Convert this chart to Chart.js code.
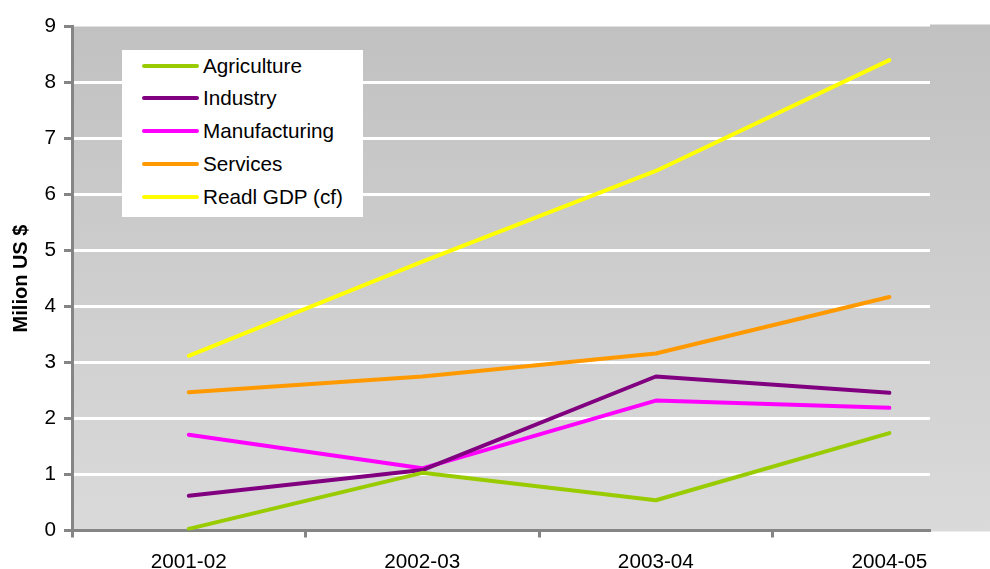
<!DOCTYPE html>
<html>
<head>
<meta charset="utf-8">
<script src="https://cdn.jsdelivr.net/npm/chart.js@4"></script>
<style>
  html, body { margin: 0; padding: 0; background: #fff; overflow: hidden; }
  #wrap { position: relative; width: 990px; height: 569px; }
  #legend {
    position: absolute; left: 122px; top: 50px; width: 241px; height: 167px;
    background: #fff; font: 20.7px "Liberation Sans", Arial, sans-serif; color: #000;
  }
  #legend .item { position: absolute; left: 0; height: 32px; width: 100%; }
  #legend .swatch { position: absolute; left: 20px; top: 14px; width: 57px; height: 4px; border-radius: 2px; }
  #legend .label { position: absolute; left: 81px; top: 0; line-height: 32px; white-space: nowrap; }
</style>
</head>
<body>
<div id="wrap">
  <canvas id="gdpChart"></canvas>
  <div id="legend"></div>
</div>
<script>
// sector output by fiscal year (million US $)
const years = ["2001-02", "2002-03", "2003-04", "2004-05"];
const agriculture = [0.03, 1.03, 0.54, 1.74];
const industry = [0.62, 1.08, 2.75, 2.46];
const manufacturing = [1.71, 1.11, 2.32, 2.19];
const services = [2.47, 2.75, 3.16, 4.17];
const realGdp = [3.12, 4.8, 6.42, 8.4];
const yTicks = [0, 1, 2, 3, 4, 5, 6, 7, 8, 9];

const series = [
  { label: "Agriculture", values: agriculture, color: "#99CC00" },
  { label: "Industry", values: industry, color: "#800080" },
  { label: "Manufacturing", values: manufacturing, color: "#FF00FF" },
  { label: "Services", values: services, color: "#FF9900" },
  { label: "Readl GDP (cf)", values: realGdp, color: "#FFFF00" },
];

const axisGray = "#858585";
Chart.defaults.font.family = "'Liberation Sans', Arial, sans-serif";
Chart.defaults.color = "#000";

// gray gradient behind the plot, plus the side panel to its right
const plotBackground = {
  id: "plotBackground",
  beforeDraw(chart) {
    const { ctx, chartArea: a } = chart;
    const grad = ctx.createLinearGradient(0, a.top, 0, a.bottom);
    grad.addColorStop(0, "#C1C1C1");
    grad.addColorStop(1, "#DADADA");
    ctx.save();
    ctx.fillStyle = grad;
    ctx.fillRect(a.left, a.top, a.right - a.left, a.bottom - a.top);
    ctx.fillRect(a.right, a.top - 2, chart.width - a.right, a.bottom - a.top + 3);
    ctx.restore();
  },
};

const chart = new Chart(document.getElementById("gdpChart"), {
  type: "line",
  data: {
    datasets: series.map((s) => ({
      label: s.label,
      data: s.values.map((v, i) => ({ x: i, y: v })),
      borderColor: s.color,
      backgroundColor: s.color,
      borderWidth: 4,
      borderCapStyle: "round",
      borderJoinStyle: "round",
      pointRadius: 0,
      tension: 0,
      fill: false,
    })),
  },
  options: {
    responsive: true,
    maintainAspectRatio: false,
    animation: false,
    layout: { padding: { left: 0, right: 60, top: 26.5, bottom: 0 } },
    plugins: { legend: { display: false }, tooltip: { enabled: false } },
    scales: {
      x: {
        type: "linear",
        min: -0.5,
        max: 3.174,
        afterBuildTicks(scale) {
          // tick marks between categories, labels on the categories
          scale.ticks = [-0.5, 0, 0.5, 1, 1.5, 2, 2.5, 3].map((v) => ({ value: v }));
        },
        afterFit(scale) { scale.height = 38.5; },
        ticks: {
          autoSkip: false,
          maxRotation: 0,
          padding: 12,
          font: { size: 20.7 },
          callback: (v) => (Number.isInteger(v) ? years[v] : ""),
        },
        grid: {
          drawOnChartArea: false,
          tickLength: 7,
          tickWidth: 3,
          tickColor: (ctx) => (Number.isInteger(ctx.tick.value) ? "transparent" : axisGray),
        },
        border: { color: axisGray, width: 3 },
      },
      y: {
        min: 0,
        max: 9,
        afterBuildTicks(scale) {
          scale.ticks = yTicks.map((v) => ({ value: v }));
        },
        afterFit(scale) { scale.width = 72; },
        ticks: { padding: 8, font: { size: 20.7 } },
        grid: {
          color: (ctx) => (ctx.tick.value > 0 && ctx.tick.value < 9 ? "#fff" : "transparent"),
          lineWidth: 3,
          tickLength: 8,
          tickWidth: 3,
          tickColor: axisGray,
        },
        border: { color: axisGray, width: 3 },
        title: {
          display: true,
          text: "Milion US $",
          font: { size: 20, weight: "bold" },
          padding: { top: 9, bottom: 0 },
        },
      },
    },
  },
  plugins: [plotBackground],
});

// legend box built from the same series list
const legendEl = document.getElementById("legend");
series.forEach((s, i) => {
  const item = document.createElement("div");
  item.className = "item";
  item.style.top = (-0.5 + i * 32.8) + "px";
  const sw = document.createElement("span");
  sw.className = "swatch";
  sw.style.background = s.color;
  const lab = document.createElement("span");
  lab.className = "label";
  lab.textContent = s.label;
  item.appendChild(sw);
  item.appendChild(lab);
  legendEl.appendChild(item);
});
</script>
</body>
</html>
